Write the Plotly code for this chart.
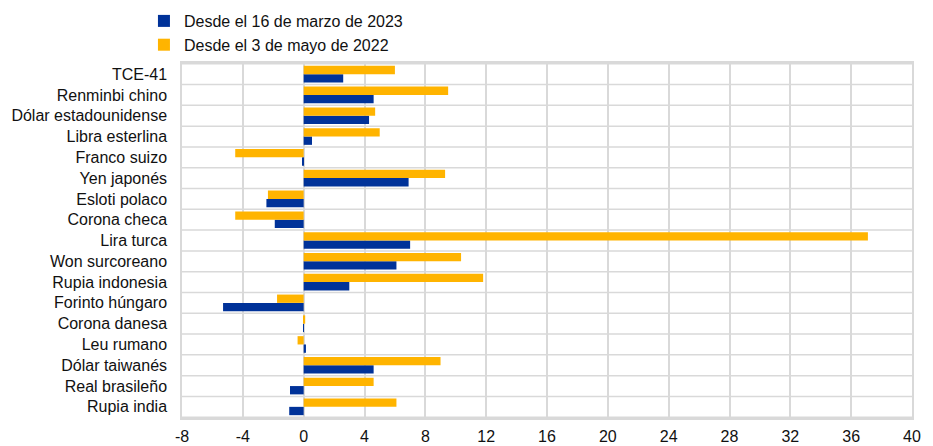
import plotly.graph_objects as go

categories = ["TCE-41", "Renminbi chino", "Dólar estadounidense", "Libra esterlina",
              "Franco suizo", "Yen japonés", "Esloti polaco", "Corona checa",
              "Lira turca", "Won surcoreano", "Rupia indonesia", "Forinto húngaro",
              "Corona danesa", "Leu rumano", "Dólar taiwanés", "Real brasileño",
              "Rupia india"]
since_2023 = [2.6, 4.6, 4.3, 0.55, -0.1, 6.9, -2.45, -1.9, 7.0, 6.1, 3.0, -5.3,
              0.02, 0.15, 4.6, -0.9, -0.95]
since_2022 = [6.0, 9.5, 4.7, 5.0, -4.5, 9.3, -2.35, -4.5, 37.1, 10.35, 11.8, -1.75,
              0.1, -0.4, 9.0, 4.6, 6.1]
series_names = ["Desde el 16 de marzo de 2023", "Desde el 3 de mayo de 2022"]
x_ticks = list(range(-8, 41, 4))

BLUE = "#003299"
YELLOW = "#FFB400"
GRID = "#d9d9d9"

fig = go.Figure()
fig.add_trace(go.Bar(y=categories, x=since_2023, orientation="h", name=series_names[0],
                     marker=dict(color=BLUE, line=dict(width=0))))
fig.add_trace(go.Bar(y=categories, x=since_2022, orientation="h", name=series_names[1],
                     marker=dict(color=YELLOW, line=dict(width=0))))

for i in range(len(categories) + 1):
    fig.add_shape(type="line", xref="paper", yref="y", x0=0, x1=1,
                  y0=i - 0.5, y1=i - 0.5, line=dict(color=GRID, width=1.5), layer="below")

fig.update_layout(
    width=933, height=446,
    margin=dict(l=182, r=21, t=63, b=28, autoexpand=False),
    paper_bgcolor="white", plot_bgcolor="white",
    barmode="group", bargap=0.2, bargroupgap=0,
    font=dict(family="Liberation Sans, Arial, sans-serif", size=16, color="#111111"),
    showlegend=True,
    legend=dict(x=-38 / 729, y=1 + 59 / 355, xanchor="left", yanchor="top",
                font=dict(size=16), bgcolor="rgba(0,0,0,0)", tracegroupgap=0,
                itemwidth=30),
    xaxis=dict(range=[-8, 40], tickvals=x_ticks, ticktext=[str(v) for v in x_ticks],
               showgrid=True, gridcolor=GRID, gridwidth=1.5, zeroline=False,
               showline=True, linecolor=GRID, linewidth=1.5, mirror=True,
               ticks="outside", ticklen=3, tickcolor="rgba(0,0,0,0)", automargin=False),
    yaxis=dict(categoryorder="array", categoryarray=categories[::-1],
               showgrid=False, zeroline=False, showline=True, linecolor=GRID,
               linewidth=1.5, mirror=True, ticks="outside", ticklen=10,
               tickcolor="rgba(0,0,0,0)", automargin=False),
)

fig.write_html("out.html", config={"displayModeBar": False},
               post_script="document.body.style.margin='0';document.body.style.overflow='hidden';")
